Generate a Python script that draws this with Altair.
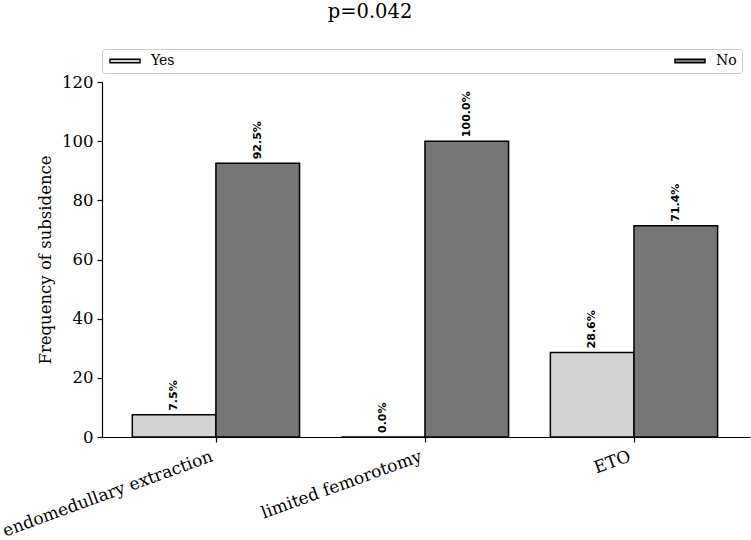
import json
import altair as alt
import pandas as pd

categories = ["endomedullary extraction", "limited femorotomy", "ETO"]
series = ["Yes", "No"]
yes_values = [7.5, 0.0, 28.6]
no_values = [92.5, 100.0, 71.4]
y_ticks = [0, 20, 40, 60, 80, 100, 120]

rows = []
for i, cat in enumerate(categories):
    rows.append({"category": cat, "idx": i, "series": "Yes", "sidx": 0, "value": yes_values[i]})
    rows.append({"category": cat, "idx": i, "series": "No", "sidx": 1, "value": no_values[i]})
df = pd.DataFrame(rows)

SERIF = "DejaVu Serif"
label_expr = json.dumps(categories) + "[datum.value]"

base = alt.Chart(df).transform_calculate(
    x0="datum.idx - 0.4 + 0.4 * datum.sidx",
    x1="datum.idx + 0.4 * datum.sidx",
    xm="datum.idx - 0.2 + 0.4 * datum.sidx",
    lbl="format(datum.value, '.1f') + '%'",
)

x_scale = alt.Scale(domain=[-0.545, 2.555], nice=False, zero=False, padding=0)
y_scale = alt.Scale(domain=[0, 120], nice=False, padding=0)

bars = base.mark_bar(stroke="black", strokeWidth=1.5).encode(
    x=alt.X("x0:Q", scale=x_scale,
            axis=alt.Axis(values=[0, 1, 2], labelExpr=label_expr, title=None,
                          labelAngle=-20, labelAlign="right", labelBaseline="top",
                          labelFont=SERIF, labelFontSize=17, labelColor="black",
                          tickSize=5, tickColor="black", domainColor="black",
                          labelPadding=6, labelOffset=-7, grid=False,
                          labelOverlap=False, labelFlush=False, labelBound=False,
                          labelLimit=400)),
    x2="x1:Q",
    y=alt.Y("value:Q", scale=y_scale,
            axis=alt.Axis(values=y_ticks, title="Frequency of subsidence",
                          titleFont=SERIF, titleFontSize=16.5, titleFontWeight="normal",
                          titleColor="black", titlePadding=8,
                          labelFont=SERIF, labelFontSize=16.5, labelColor="black",
                          tickSize=5, tickColor="black", domainColor="black",
                          labelPadding=4, grid=False)),
    y2=alt.datum(0),
    color=alt.Color("series:N", scale=alt.Scale(domain=series, range=["#d3d3d3", "#767676"]),
                    sort=series,
                    legend=alt.Legend(title=None, orient="none", legendX=0, legendY=-33,
                                      direction="horizontal", columns=2, columnPadding=497,
                                      padding=5, strokeColor="#cccccc", cornerRadius=3,
                                      fillColor="white",
                                      symbolType="M-3.75,-0.44L3.75,-0.44L3.75,0.44L-3.75,0.44Z",
                                      symbolSize=64, symbolOffset=11,
                                      symbolStrokeColor="black",
                                      symbolStrokeWidth=1.5, symbolOpacity=1,
                                      labelFont=SERIF, labelFontSize=14, labelColor="black",
                                      labelOffset=19)),
)

labels = base.mark_text(angle=270, align="left", baseline="middle", font="DejaVu Sans",
                        fontWeight="bold", fontSize=11, color="black", yOffset=-4).encode(
    x=alt.X("xm:Q", scale=x_scale),
    y=alt.Y("value:Q", scale=y_scale),
    text="lbl:N",
)

chart = alt.layer(bars, labels).properties(
    width=648, height=355,
    title=alt.TitleParams("p=0.042", font=SERIF, fontSize=19.5, fontWeight="normal",
                          color="black", anchor="middle", dx=-56, offset=26),
    autosize=alt.AutoSizeParams(type="none"),
    padding={"left": 102, "top": 82, "right": 1, "bottom": 103},
).configure_view(stroke=None).configure_axis(domainWidth=1.2, tickWidth=1.2)

chart.save("out.html", embed_options={"renderer": "svg", "actions": False})
